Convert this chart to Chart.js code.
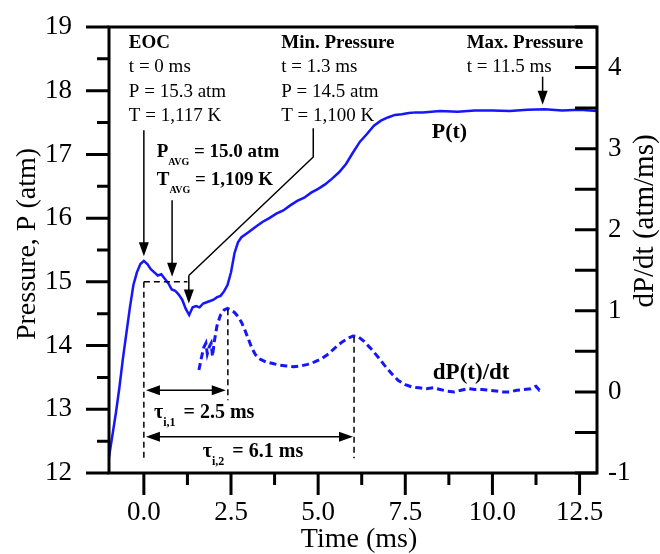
<!DOCTYPE html>
<html>
<head>
<meta charset="utf-8">
<script src="https://cdn.jsdelivr.net/npm/chart.js@4.4.1/dist/chart.umd.min.js"></script>
<style>
    html, body { margin: 0; padding: 0; background: #fff; }
</style>
</head>
<body>
<canvas id="pressureChart" width="660" height="554"></canvas>
<script>
// P(t) trace, time in ms / pressure in atm
const timeP = [-1.0, -0.9, -0.8, -0.7, -0.6, -0.5, -0.4, -0.3, -0.2, -0.1, 0.0, 0.1, 0.2, 0.3, 0.4, 0.5,
    0.6, 0.7, 0.8, 0.9, 1.0, 1.1, 1.2, 1.3, 1.4, 1.5, 1.6, 1.7, 1.8, 1.9, 2.0, 2.1, 2.2, 2.3, 2.4, 2.5,
    2.6, 2.7, 2.8, 2.9, 3.0, 3.2, 3.4, 3.6, 3.8, 4.0, 4.2, 4.4, 4.6, 4.8, 5.0, 5.2, 5.4, 5.6, 5.8, 6.0,
    6.2, 6.4, 6.6, 6.8, 7.0, 7.2, 7.4, 7.6, 7.8, 8.0, 8.5, 9.0, 9.5, 10.0, 10.5, 11.0, 11.5, 12.0, 12.5, 13.0];
const pressure = [12.25, 12.6, 12.95, 13.35, 13.8, 14.2, 14.6, 14.95, 15.15, 15.28, 15.33, 15.28, 15.2, 15.15, 15.1, 15.12,
    15.05, 14.98, 14.88, 14.86, 14.8, 14.72, 14.58, 14.48, 14.6, 14.62, 14.6, 14.66, 14.68, 14.7, 14.72, 14.76, 14.78, 14.85, 14.95, 15.15,
    15.45, 15.62, 15.7, 15.74, 15.78, 15.86, 15.94, 16.0, 16.07, 16.12, 16.2, 16.27, 16.32, 16.4, 16.46, 16.53, 16.62, 16.72, 16.85, 17.03,
    17.2, 17.32, 17.45, 17.53, 17.58, 17.62, 17.63, 17.65, 17.66, 17.66, 17.68, 17.67, 17.69, 17.69, 17.68, 17.70, 17.71, 17.69, 17.70, 17.68];

// dP/dt trace, atm/ms
const timeD = [1.58, 1.65, 1.72, 1.78, 1.82, 1.88, 1.93, 1.97, 2.02, 2.1, 2.2, 2.3, 2.4, 2.5, 2.6, 2.7, 2.8, 2.9,
    3.0, 3.1, 3.2, 3.35, 3.5, 3.7, 3.9, 4.1, 4.3, 4.5, 4.7, 4.9, 5.1, 5.3, 5.5, 5.7, 5.9, 6.0, 6.15, 6.3,
    6.5, 6.7, 6.9, 7.1, 7.3, 7.5, 7.7, 7.9, 8.1, 8.3, 8.5, 8.7, 8.9, 9.1, 9.3, 9.5, 9.7, 9.9, 10.1, 10.3,
    10.5, 10.7, 10.9, 11.1, 11.25, 11.35, 11.45];
const dPdt = [0.27, 0.42, 0.55, 0.6, 0.47, 0.56, 0.6, 0.44, 0.62, 0.82, 0.95, 1.01, 1.03, 1.01, 0.98, 0.93, 0.86, 0.76,
    0.65, 0.54, 0.46, 0.4, 0.37, 0.35, 0.33, 0.32, 0.31, 0.32, 0.34, 0.37, 0.41, 0.47, 0.55, 0.62, 0.67, 0.69, 0.68, 0.63,
    0.54, 0.44, 0.33, 0.23, 0.14, 0.09, 0.06, 0.05, 0.04, 0.05, 0.03, 0.01, 0.0, 0.02, 0.04, 0.03, 0.03, 0.02, 0.01, 0.0,
    0.0, 0.02, 0.03, 0.04, 0.07, 0.02, 0.03];

// axis ticks (major ones get labels)
const xTicks = [0, 1.25, 2.5, 3.75, 5, 6.25, 7.5, 8.75, 10, 11.25, 12.5];
const pTicks = [12, 12.5, 13, 13.5, 14, 14.5, 15, 15.5, 16, 16.5, 17, 17.5, 18, 18.5, 19];
const dTicks = [-1, -0.5, 0, 0.5, 1, 1.5, 2, 2.5, 3, 3.5, 4, 4.5];

const SERIF = '"Liberation Serif", "Times New Roman", serif';
const BLUE = 'rgb(22,22,250)';

const isXMajor = v => Math.abs(v / 2.5 - Math.round(v / 2.5)) < 1e-6;
const isInt = v => Math.abs(v - Math.round(v)) < 1e-6;

function arrowHead(ctx, x, y, dx, dy) {
    const len = 14, half = 5;
    ctx.beginPath();
    ctx.moveTo(x, y);
    ctx.lineTo(x - dx * len - dy * half, y - dy * len + dx * half);
    ctx.lineTo(x - dx * len + dy * half, y - dy * len - dx * half);
    ctx.closePath();
    ctx.fill();
}

function arrow(ctx, x1, y1, x2, y2, both) {
    const d = Math.hypot(x2 - x1, y2 - y1);
    const dx = (x2 - x1) / d, dy = (y2 - y1) / d;
    ctx.beginPath();
    ctx.moveTo(x1 + (both ? dx * 8 : 0), y1 + (both ? dy * 8 : 0));
    ctx.lineTo(x2 - dx * 8, y2 - dy * 8);
    ctx.stroke();
    arrowHead(ctx, x2, y2, dx, dy);
    if (both) arrowHead(ctx, x1, y1, -dx, -dy);
}

function subText(ctx, x, y, main, sub, rest, size, subSize, gap) {
    ctx.font = 'bold ' + size + 'px ' + SERIF;
    ctx.fillText(main, x, y);
    x += ctx.measureText(main).width;
    ctx.font = 'bold ' + subSize + 'px ' + SERIF;
    ctx.fillText(sub, x, y + 8);
    x += ctx.measureText(sub).width + gap;
    ctx.font = 'bold ' + size + 'px ' + SERIF;
    ctx.fillText(rest, x, y);
}

// keep the plot box where the original has it
function noPadding(s) {
    s.paddingTop = 0;
    s.paddingBottom = 0;
    s.paddingLeft = 0;
    s.paddingRight = 0;
}

const overlay = {
    id: 'overlay',
    afterDraw(chart) {
        const {ctx, chartArea: a, scales} = chart;
        const sx = scales.x, sp = scales.y, sd = scales.y1;
        const X = v => sx.getPixelForValue(v);
        const P = v => sp.getPixelForValue(v);
        const D = v => sd.getPixelForValue(v);

        ctx.save();
        ctx.strokeStyle = '#000';
        ctx.fillStyle = '#000';

        // frame and tick marks
        ctx.lineWidth = 3;
        ctx.strokeRect(a.left, a.top, a.right - a.left, a.bottom - a.top);
        ctx.beginPath();
        pTicks.forEach(v => {
            const len = isInt(v) ? 23 : 12;
            ctx.moveTo(a.left - len, P(v));
            ctx.lineTo(a.left, P(v));
        });
        xTicks.forEach(v => {
            const len = isXMajor(v) ? 22 : 12;
            ctx.moveTo(X(v), a.bottom);
            ctx.lineTo(X(v), a.bottom + len);
        });
        dTicks.forEach(v => {
            ctx.moveTo(a.right - 22, D(v));
            ctx.lineTo(a.right, D(v));
        });
        ctx.stroke();

        // dashed guide lines
        ctx.lineWidth = 1.5;
        ctx.setLineDash([6, 4]);
        ctx.beginPath();
        ctx.moveTo(X(0), P(15.0));
        ctx.lineTo(X(1.25), P(15.0));
        ctx.moveTo(X(0), P(15.0));
        ctx.lineTo(X(0), P(12.23));
        ctx.moveTo(X(2.41), D(1.02));
        ctx.lineTo(X(2.41), P(13.14));
        ctx.moveTo(X(6.03), D(0.68));
        ctx.lineTo(X(6.03), P(12.23));
        ctx.stroke();
        ctx.setLineDash([]);

        // arrows
        arrow(ctx, X(0), P(17.38), X(0), P(15.40));
        arrow(ctx, X(0.81), P(16.28), X(0.81), P(15.08));
        ctx.beginPath();
        ctx.moveTo(X(4.86), P(17.41));
        ctx.lineTo(X(4.86), P(16.96));
        ctx.lineTo(X(1.29), P(15.1));
        ctx.stroke();
        arrow(ctx, X(1.29), P(15.1), X(1.29), P(14.66));
        arrow(ctx, X(11.44), P(18.22), X(11.44), P(17.78));
        arrow(ctx, X(0.06), P(13.30), X(2.35), P(13.30), true);
        arrow(ctx, X(0.06), P(12.57), X(6.0), P(12.57), true);

        // text blocks
        ctx.textAlign = 'left';
        ctx.textBaseline = 'alphabetic';
        const block = (t, lines) => {
            const rows = [18.67, 18.29, 17.90, 17.53];
            lines.forEach((s, i) => {
                ctx.font = (i === 0 ? 'bold ' : '') + '19px ' + SERIF;
                ctx.fillText(s, X(t), P(rows[i]));
            });
        };
        block(-0.43, ['EOC', 't = 0 ms', 'P = 15.3 atm', 'T = 1,117 K']);
        block(3.94, ['Min. Pressure', 't = 1.3 ms', 'P = 14.5 atm', 'T = 1,100 K']);
        block(9.26, ['Max. Pressure', 't = 11.5 ms']);

        ctx.font = 'bold 22px ' + SERIF;
        ctx.fillText('P(t)', X(8.26), P(17.26));
        ctx.font = 'bold 23px ' + SERIF;
        ctx.fillText('dP(t)/dt', X(8.29), P(13.47));

        subText(ctx, X(0.37), P(16.96), 'P', 'AVG', ' = 15.0 atm', 19, 10, 0);
        subText(ctx, X(0.37), P(16.52), 'T', 'AVG', ' = 1,109 K', 19, 10, 0);
        subText(ctx, X(0.29), P(12.86), '\u03c4', 'i,1', ' = 2.5 ms', 20, 12, 3);
        subText(ctx, X(1.69), P(12.25), '\u03c4', 'i,2', ' = 6.1 ms', 20, 12, 3);

        // axis titles
        ctx.font = '28px ' + SERIF;
        ctx.textAlign = 'center';
        ctx.fillText('Time (ms)', 359, 547);
        ctx.textBaseline = 'middle';
        ctx.save();
        ctx.translate(28, 244);
        ctx.rotate(-Math.PI / 2);
        ctx.fillText('Pressure, P (atm)', 0, 0);
        ctx.restore();
        ctx.save();
        ctx.font = '29px ' + SERIF;
        ctx.translate(645, 221);
        ctx.rotate(-Math.PI / 2);
        ctx.fillText('dP/dt (atm/ms)', 0, 0);
        ctx.restore();

        ctx.restore();
    }
};

function initializeChart() {
    const canvas = document.querySelector('#pressureChart');
    const tickFont = {family: SERIF, size: 27};

    new Chart(canvas, {
        type: 'line',
        data: {
            datasets: [{
                label: 'P(t)',
                data: timeP.map((t, i) => ({x: t, y: pressure[i]})),
                yAxisID: 'y',
                borderColor: BLUE,
                borderWidth: 2.5,
                pointRadius: 0,
                tension: 0
            }, {
                label: 'dP(t)/dt',
                data: timeD.map((t, i) => ({x: t, y: dPdt[i]})),
                yAxisID: 'y1',
                borderColor: BLUE,
                borderWidth: 3,
                borderDash: [7, 4],
                pointRadius: 0,
                tension: 0
            }]
        },
        options: {
            responsive: false,
            animation: false,
            layout: {padding: {top: 27, left: 0, right: 0, bottom: 0}},
            plugins: {
                legend: {display: false},
                tooltip: {enabled: false}
            },
            scales: {
                x: {
                    type: 'linear',
                    min: -1,
                    max: 13,
                    grid: {display: false, drawTicks: false},
                    border: {display: false},
                    afterBuildTicks: s => { s.ticks = xTicks.map(v => ({value: v})); },
                    afterFit: s => { s.height = 81; noPadding(s); },
                    ticks: {
                        autoSkip: false,
                        maxRotation: 0,
                        padding: 24,
                        color: '#000',
                        font: tickFont,
                        callback: v => isXMajor(v) ? v.toFixed(1) : ''
                    }
                },
                y: {
                    position: 'left',
                    min: 12,
                    max: 19,
                    grid: {display: false, drawTicks: false},
                    border: {display: false},
                    afterBuildTicks: s => { s.ticks = pTicks.map(v => ({value: v})); },
                    afterFit: s => { s.width = 109; noPadding(s); },
                    ticks: {
                        autoSkip: false,
                        padding: 37,
                        color: '#000',
                        font: tickFont,
                        callback: v => isInt(v) ? String(v) : ''
                    }
                },
                y1: {
                    position: 'right',
                    min: -1,
                    max: 4.5,
                    grid: {display: false, drawTicks: false},
                    border: {display: false},
                    afterBuildTicks: s => { s.ticks = dTicks.map(v => ({value: v})); },
                    afterFit: s => { s.width = 63; noPadding(s); },
                    ticks: {
                        autoSkip: false,
                        padding: 11,
                        color: '#000',
                        font: tickFont,
                        callback: v => isInt(v) ? String(v) : ''
                    }
                }
            }
        },
        plugins: [overlay]
    });
}

document.addEventListener('DOMContentLoaded', initializeChart);
</script>
</body>
</html>
